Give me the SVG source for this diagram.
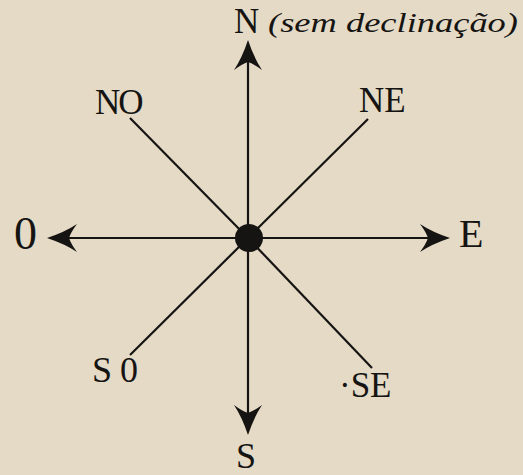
<svg xmlns="http://www.w3.org/2000/svg" width="523" height="475" viewBox="0 0 523 475">
  <style>
    .ink { fill: #161412; }
    .lbl { fill: #161412; }
    .ln { stroke: #161412; stroke-width: 2.2; fill: none; stroke-linecap: butt; }
  </style>
  <defs>
    <marker id="arrow" viewBox="-10 -16 34 32" markerWidth="34" markerHeight="32" refX="0" refY="0" orient="auto" markerUnits="userSpaceOnUse">
      <path d="M22,0 Q4,-6 -8,-14 Q-2,-6 0,0 Q-2,6 -8,14 Q4,6 22,0 Z" fill="#161412"/>
    </marker>
  </defs>
  <rect x="0" y="0" width="523" height="475" fill="#e4dac6"/>

  <g id="connectors">
    <line class="ln" x1="248" y1="238" x2="248" y2="62" marker-end="url(#arrow)"/>
    <line class="ln" x1="248" y1="238" x2="248" y2="413" marker-end="url(#arrow)"/>
    <line class="ln" x1="248" y1="238" x2="69" y2="238" marker-end="url(#arrow)"/>
    <line class="ln" x1="248" y1="238" x2="428" y2="238" marker-end="url(#arrow)"/>
    <line class="ln" x1="248" y1="238" x2="130" y2="118"/>
    <line class="ln" x1="248" y1="238" x2="368" y2="119"/>
    <line class="ln" x1="248" y1="238" x2="130" y2="355"/>
    <line class="ln" x1="248" y1="238" x2="372" y2="368"/>
  </g>

  <g id="center">
    <circle class="ink" cx="249" cy="238" r="14"/>
  </g>

  <g font-family="'Liberation Serif', 'Times New Roman', Times, serif">
  <g id="n">
    <text class="lbl" x="234" y="33" font-size="35">N</text>
    <text class="lbl" x="268" y="32" font-size="28" font-style="italic" textLength="250" lengthAdjust="spacingAndGlyphs">(sem declinação)</text>
  </g>
  <g id="ne">
    <text class="lbl" x="359" y="112" font-size="35">NE</text>
  </g>
  <g id="no">
    <text class="lbl" x="95" y="114" font-size="35" letter-spacing="-2">NO</text>
  </g>
  <g id="o">
    <text class="lbl" x="14" y="249" font-size="46">0</text>
  </g>
  <g id="e">
    <text class="lbl" x="459" y="247" font-size="40">E</text>
  </g>
  <g id="so">
    <text class="lbl" x="92" y="382" font-size="36" letter-spacing="8">S0</text>
  </g>
  <g id="se">
    <text class="lbl" x="339" y="397" font-size="35">·SE</text>
  </g>
  <g id="s">
    <text class="lbl" x="236" y="468" font-size="36">S</text>
  </g>
  </g>
</svg>
